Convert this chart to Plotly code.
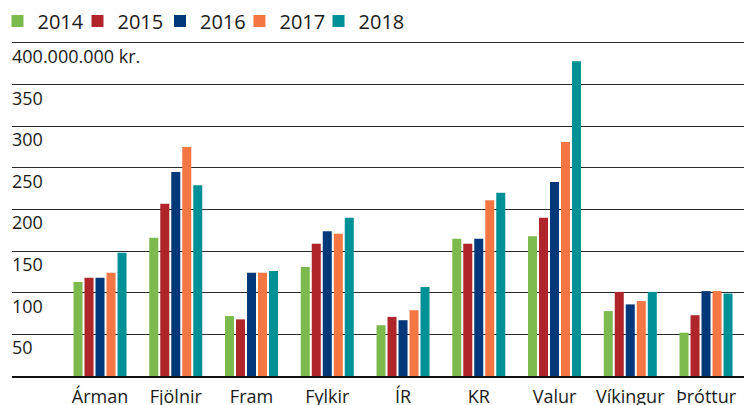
import plotly.graph_objects as go

clubs = ["Árman", "Fjölnir", "Fram", "Fylkir", "ÍR", "KR", "Valur", "Víkingur", "Þróttur"]
years = ["2014", "2015", "2016", "2017", "2018"]

v2014 = [113, 166, 72, 131, 61, 165, 168, 78, 52]
v2015 = [118, 207, 68, 159, 71, 159, 190, 101, 73]
v2016 = [118, 245, 124, 174, 67, 165, 233, 86, 102]
v2017 = [124, 275, 124, 171, 79, 211, 281, 90, 102]
v2018 = [148, 229, 126, 190, 107, 220, 378, 101, 99]

series = [v2014, v2015, v2016, v2017, v2018]
colors = ["#7DBA4E", "#AF252A", "#00387A", "#F47642", "#009196"]

tick_vals = [50, 100, 150, 200, 250, 300, 350, 400]
tick_text = ["50", "100", "150", "200", "250", "300", "350", "400.000.000 kr."]

FONT = "Open Sans"

# page body has an 8px margin; figure is sized to fill the rest of the window
W, H = 744, 397
legend_names = ["legend", "legend2", "legend3", "legend4", "legend5"]
legend_x = [-0.0196, 0.0885, 0.2, 0.3074, 0.4142]

fig = go.Figure()
for yr, vals, col, lg in zip(years, series, colors, legend_names):
    fig.add_trace(go.Bar(x=list(range(len(clubs))), y=vals, name=yr, legend=lg,
                         marker=dict(color=col, line=dict(width=0))))

layout_legends = {}
for lg, lx in zip(legend_names, legend_x):
    layout_legends[lg] = dict(
        orientation="h", x=lx, xanchor="left", y=1.014, yanchor="middle",
        font=dict(size=20, family=FONT, color="#1a1a1a"),
        itemwidth=30, borderwidth=0, bgcolor="rgba(0,0,0,0)",
    )

# value-axis labels sit just below their gridlines, at the left edge
y_labels = [
    dict(x=0, xref="paper", xanchor="left", xshift=-2,
         y=v, yref="y", yanchor="middle", yshift=-13,
         text=t, showarrow=False,
         font=dict(size=18, family=FONT, color="#1a1a1a"))
    for v, t in zip(tick_vals, tick_text)
]

fig.update_layout(
    width=W, height=H,
    margin=dict(l=4, r=0, t=18, b=29, autoexpand=False),
    paper_bgcolor="white", plot_bgcolor="white",
    barmode="group", bargap=0.274, bargroupgap=0.18,
    font=dict(family=FONT, color="#1a1a1a"),
    showlegend=True,
    annotations=y_labels,
    **layout_legends,
)

fig.update_xaxes(
    tickmode="array", tickvals=list(range(len(clubs))), ticktext=clubs,
    range=[-1.162, 8.607],
    showgrid=False, zeroline=False,
    showline=True, linecolor="#111", linewidth=2,
    ticks="", ticklen=0, tickfont=dict(size=18, family=FONT, color="#1a1a1a"),
    ticklabelstandoff=3,
)

fig.update_yaxes(
    range=[0, 420.4],
    tickmode="array", tickvals=tick_vals,
    showgrid=True, gridcolor="#2a2a2a", gridwidth=1.2,
    zeroline=False, showline=False,
    ticks="", showticklabels=False,
)

fig.write_html("out.html")
